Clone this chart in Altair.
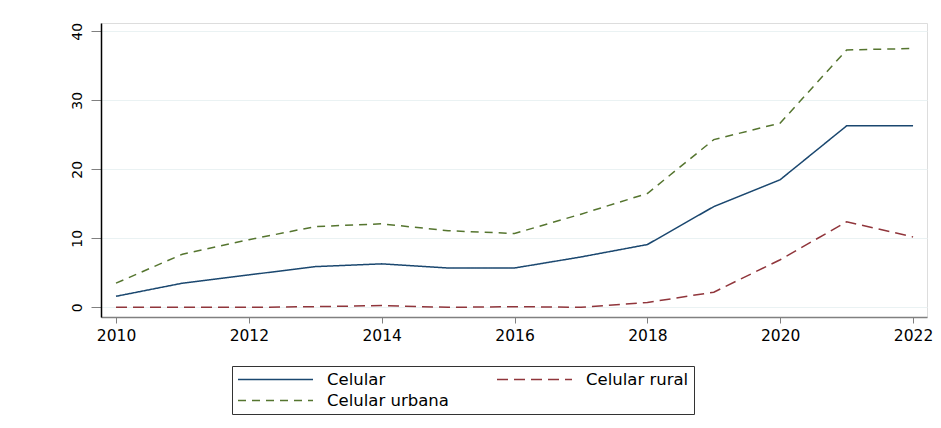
import altair as alt
import pandas as pd

years = list(range(2010, 2023))
celular = [1.6, 3.5, 4.7, 5.9, 6.3, 5.7, 5.7, 7.3, 9.1, 14.6, 18.5, 26.3, 26.3]
rural = [0.0, 0.0, 0.0, 0.1, 0.25, 0.0, 0.1, 0.0, 0.7, 2.2, 6.9, 12.4, 10.2]
urbana = [3.5, 7.7, 9.8, 11.7, 12.1, 11.1, 10.7, 13.5, 16.5, 24.3, 26.7, 37.3, 37.5]

series = ["Celular", "Celular rural", "Celular urbana"]
colors = ["#1a476f", "#90353b", "#55752f"]
dashes = [[1, 0], [11, 6], [8, 6]]
x_ticks = [2010, 2012, 2014, 2016, 2018, 2020, 2022]
y_ticks = [0, 10, 20, 30, 40]

rows = []
for name, vals in zip(series, [celular, rural, urbana]):
    for yr, v in zip(years, vals):
        rows.append({"year": yr, "value": v, "series": name})
df = pd.DataFrame(rows)

FONT = "DejaVu Sans"

legend = alt.Legend(
    orient="none", legendX=131, legendY=343, direction="horizontal",
    columns=2, columnPadding=45, rowPadding=4,
    symbolType="M-1,0H9", symbolSize=225, symbolStrokeWidth=1.5,
    labelFont=FONT, labelFontSize=16.5, labelColor="#000000", labelOffset=73,
    strokeColor="#333333", fillColor="#ffffff", padding=5,
)

chart = alt.Chart(df).mark_line(strokeWidth=1.5).encode(
    x=alt.X("year:Q",
            scale=alt.Scale(domain=[2009.774, 2022.21], nice=False, zero=False),
            axis=alt.Axis(values=x_ticks, format="d", title=None, grid=False,
                          domainColor="#808080", domainWidth=1.5,
                          tickColor="#808080", tickSize=6,
                          labelFont=FONT, labelFontSize=15.5, labelColor="#000000",
                          labelPadding=5, labelFlush=False)),
    y=alt.Y("value:Q",
            scale=alt.Scale(domain=[-1.4, 41.2], nice=False, zero=False),
            axis=alt.Axis(values=y_ticks, title=None, grid=True,
                          gridColor="#eaf2f3", gridWidth=1.2,
                          domainColor="#000000", domainWidth=1.5,
                          tickColor="#808080", tickSize=10,
                          labelFont=FONT, labelFontSize=14, labelColor="#000000",
                          labelAngle=270, labelAlign="center",
                          labelBaseline="alphabetic", labelPadding=10)),
    color=alt.Color("series:N", scale=alt.Scale(domain=series, range=colors),
                    title=None, legend=legend),
    strokeDash=alt.StrokeDash("series:N", scale=alt.Scale(domain=series, range=dashes),
                              title=None, legend=legend),
).properties(
    width=826, height=294,
    autosize=alt.AutoSizeParams(type="none"),
    padding={"left": 93, "top": 15, "right": 6, "bottom": 98},
).configure_view(stroke="transparent").configure(background="#ffffff")

chart.save("out.html", embed_options={"renderer": "svg", "actions": False})
